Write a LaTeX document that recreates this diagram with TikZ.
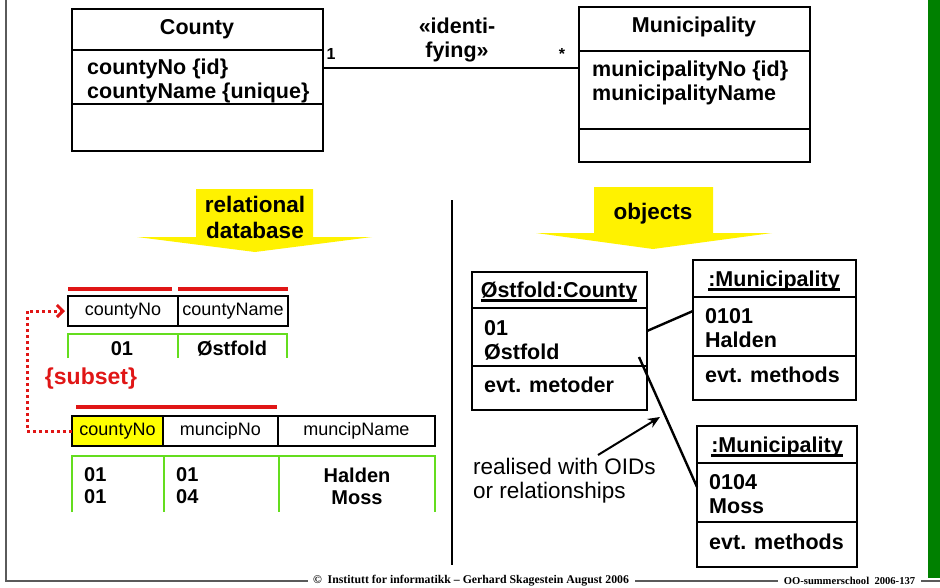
\documentclass[tikz,border=0pt]{standalone}
\usepackage{fontspec}
\setmainfont{Liberation Sans}
\newfontfamily\footfont{Liberation Serif}
\usetikzlibrary{arrows.meta}
\definecolor{arrowyellow}{RGB}{255,242,0}
\definecolor{cellyellow}{RGB}{255,255,0}
\definecolor{limegreen}{RGB}{100,221,30}
\definecolor{keyred}{RGB}{224,22,22}
\definecolor{bargreen}{RGB}{0,128,0}
\definecolor{rulegray}{RGB}{90,90,90}
\begin{document}
\begin{tikzpicture}[x=1pt,y=-1pt,
  box/.style={draw, line width=2.4pt, anchor=north west, inner sep=0pt, outer sep=0pt},
  sep/.style={line width=2.4pt},
  bold21/.style={inner sep=0pt, font=\fontsize{21.5}{24}\selectfont\bfseries},
  attr/.style={bold21, anchor=west, align=left},
  hdr/.style={draw, line width=2.4pt, minimum height=30pt, inner sep=0pt, outer sep=0pt,
              anchor=west, font=\fontsize{18}{20}\selectfont},
  datum/.style={inner sep=0pt, font=\fontsize{20}{22}\selectfont\bfseries},
  keyline/.style={keyred, line width=3.5pt},
  gridline/.style={limegreen, line width=2.4pt},
  banner/.style={fill=arrowyellow},
  bannertext/.style={inner sep=0pt, align=center, font=\fontsize{22.5}{26}\selectfont\bfseries},
  link/.style={line width=2.4pt},
  footline/.style={rulegray, line width=1.3pt},
  foottext/.style={inner sep=6pt, font=\fontsize{11.8}{13}\selectfont\footfont\bfseries},
]
\useasboundingbox (0,0) rectangle (940,587);

% side bar and frame
\fill[bargreen] (928,0) rectangle (940,578);
\draw[footline] (6,0) -- (6,581) -- (308,581);
\node[foottext] (foot1) at (471,581) {\textcopyright{}\ \ Institutt for informatikk – Gerhard Skagestein August 2006};
\node[foottext, font=\fontsize{10.6}{12}\selectfont\footfont\bfseries] (foot2) at (849.5,581) {OO-summerschool\ \ 2006-137};
\draw[footline] (foot1.east) -- (foot2.west);
\draw[footline] (foot2.east) -- (940,581);

% ---------- class diagram ----------
\node[box, minimum width=251pt, minimum height=142pt] (county) at (72,9) {};
\draw[sep] (72,50) -- (323,50);
\draw[sep] (72,104) -- (323,104);
\node[bold21] (countytitle) at (197,29) {County};
\node[attr] (countyattr) at (87,81) {countyNo {\{}id{\}}\\countyName {\{}unique{\}}};

\node[box, minimum width=231pt, minimum height=155pt] (muni) at (579,7) {};
\draw[sep] (579,51) -- (810,51);
\draw[sep] (579,129) -- (810,129);
\node[bold21] (munititle) at (694,27) {Municipality};
\node[attr] (muniattr) at (592,83) {municipalityNo {\{}id{\}}\\municipalityName};

\draw[link] (county.east |- 0,68) -- (muni.west |- 0,68);
\node[inner sep=0pt, font=\fontsize{16}{18}\selectfont\bfseries] (mult1) at (331,54) {1};
\node[inner sep=0pt, font=\fontsize{16}{18}\selectfont\bfseries] (multn) at (562,54) {*};
\node[bold21, align=center] (stereo) at (457,40) {«identi-\\fying»};

% ---------- transformation banners ----------
\fill[banner] (196,189) -- (313,189) -- (313,237) -- (372,237) -- (255,252) -- (137,237) -- (196,237) -- cycle;
\node[bannertext] (reltext) at (255,217) {relational\\database};
\fill[banner] (594,187) -- (713,187) -- (713,233) -- (772,233) -- (653,249) -- (536,233) -- (594,233) -- cycle;
\node[bannertext] (objtext) at (653,214) {objects};

\draw[line width=2.5pt] (452,200) -- (452,565);

% ---------- relational tables ----------
\draw[keyline] (68,289) -- (172,289);
\draw[keyline] (178,289) -- (288,289);
\node[hdr, minimum width=110pt] (t1no) at (68,311) {countyNo};
\node[hdr, minimum width=110pt] (t1name) at (178,311) {countyName};
\draw[gridline] (68,358) -- (68,334) -- (287,334) -- (287,358);
\draw[gridline] (178,334) -- (178,358);
\node[datum] (t1d1) at (122,349) {01};
\node[datum] (t1d2) at (232,349) {Østfold};

\node[inner sep=0pt, keyred, font=\fontsize{23}{25}\selectfont\bfseries] (subset) at (91,379) {{\{}subset{\}}};

\draw[keyline] (76,407) -- (277,407);
\node[hdr, minimum width=91pt, fill=cellyellow] (t2no) at (72,431) {countyNo};
\node[hdr, minimum width=115pt] (t2mno) at (163,431) {muncipNo};
\node[hdr, minimum width=157pt] (t2mname) at (278,431) {muncipName};
\draw[gridline] (72,512) -- (72,456) -- (435,456) -- (435,512);
\draw[gridline] (164,456) -- (164,512);
\draw[gridline] (279,456) -- (279,512);
\node[datum, anchor=west, align=left] (t2d1) at (84,486) {01\\01};
\node[datum, anchor=west, align=left] (t2d2) at (176,486) {01\\04};
\node[datum, align=center] (t2d3) at (357,486) {Halden\\Moss};

% foreign key reference
\coordinate (fkbend) at (27,431);
\draw[keyred, line width=3pt, dash pattern=on 3pt off 3pt, shorten >=3pt,
      -{Straight Barb[length=6pt,width=12pt]}]
  (t2no.west) -- (fkbend) |- (t1no.west);

% ---------- object diagram ----------
\node[box, minimum width=175pt, minimum height=138pt] (ocounty) at (472,272) {};
\draw[sep] (472,308) -- (647,308);
\draw[sep] (472,366) -- (647,366);
\node[bold21, anchor=base] (ocountytitle) at (559,297) {Østfold:County};
\draw[line width=2.2pt] ([yshift=-3.5pt]ocountytitle.base west) -- ([yshift=-3.5pt]ocountytitle.base east);
\node[attr] (ocountyattr) at (484,340) {01\\Østfold};
\node[attr] (ocountyops) at (484,385) {evt. metoder};

\node[box, minimum width=163pt, minimum height=140pt] (omun1) at (693,260) {};
\draw[sep] (693,297) -- (856,297);
\draw[sep] (693,356) -- (856,356);
\node[bold21, anchor=base] (omun1title) at (774,286) {:Municipality};
\draw[line width=2.2pt] ([yshift=-3.5pt]omun1title.base west) -- ([yshift=-3.5pt]omun1title.base east);
\node[attr] (omun1attr) at (705,328) {0101\\Halden};
\node[attr] (omun1ops) at (705,375) {evt. methods};

\node[box, minimum width=160pt, minimum height=141pt] (omun2) at (697,426) {};
\draw[sep] (697,463) -- (857,463);
\draw[sep] (697,522) -- (857,522);
\node[bold21, anchor=base] (omun2title) at (777,452) {:Municipality};
\draw[line width=2.2pt] ([yshift=-3.5pt]omun2title.base west) -- ([yshift=-3.5pt]omun2title.base east);
\node[attr] (omun2attr) at (709,494) {0104\\Moss};
\node[attr] (omun2ops) at (709,542) {evt. methods};

\coordinate (linkstart) at (639,357);
\draw[link] (ocounty.east |- 0,331) -- (omun1.west |- 0,311);
\draw[link] (linkstart) -- (omun2.west |- 0,487);

\node[inner sep=0pt, anchor=west, align=left, font=\fontsize{22.5}{24}\selectfont] (note) at (473,481) {realised with OIDs\\or relationships};
\coordinate (notefrom) at (598,455);
\coordinate (notetip) at (660,417);
\draw[line width=2pt, -{Stealth[length=12pt,width=10pt]}] (notefrom) -- (notetip);
\end{tikzpicture}
\end{document}
